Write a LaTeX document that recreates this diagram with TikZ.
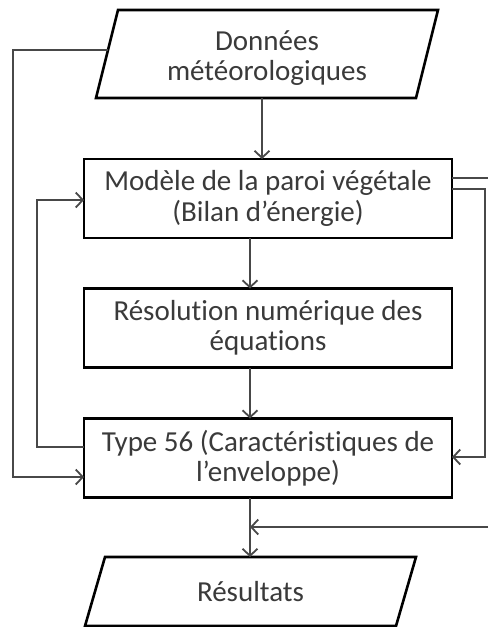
\documentclass[tikz,border=0pt]{standalone}
\usepackage{fontspec}
\setmainfont[Ligatures=NoCommon]{Carlito}
\usetikzlibrary{arrows.meta,calc}
\definecolor{ink}{HTML}{3A3A3A}
\definecolor{wirecol}{HTML}{484848}
\begin{document}
\begin{tikzpicture}[x=1pt,y=-1pt,
  txt/.style={align=center,text=ink,font=\fontsize{29}{30.5}\selectfont},
  box/.style={txt,draw=black,line width=2.6pt,fill=white,minimum width=368pt,
    minimum height=79pt,inner sep=0pt,outer sep=0pt},
  iobody/.style={txt,inner sep=0pt,outer sep=0pt},
  ioline/.style={draw=black,line width=2.6pt,line join=miter,fill=white},
  wire/.style={draw=wirecol,line width=1.8pt},
  arr/.style={wire,-{Straight Barb[length=7pt,width=15pt,line width=1.8pt]}}]
  \fill[white] (0,0) rectangle (488,627);
  \useasboundingbox (0,0) rectangle (488,627);

  % input / output parallelograms: a body node plus a slanted outline
  \node[iobody,minimum width=320pt,minimum height=88pt] (donnees) at (267,54) {};
  \path[ioline] ([xshift=-11pt]donnees.south west) -- ([xshift=11pt]donnees.north west)
     -- ([xshift=11pt]donnees.north east) -- ([xshift=-11pt]donnees.south east) -- cycle;
  \node[txt] (donneesT) at (267,58) {Données\\météorologiques};

  \node[iobody,minimum width=311pt,minimum height=69pt] (resultats) at (250.5,591.5) {};
  \path[ioline] ([xshift=-10pt]resultats.south west) -- ([xshift=10pt]resultats.north west)
     -- ([xshift=10pt]resultats.north east) -- ([xshift=-10pt]resultats.south east) -- cycle;
  \node[txt] (resultatsT) at (250.5,592) {Résultats};

  % process boxes
  \node[box] (modele) at (268,198.5) {Modèle de la paroi végétale\\(Bilan d’énergie)};
  \node[box] (resol)  at (268,328)   {Résolution numérique des\\équations};
  \node[box] (type)   at (268,458)   {Type 56 (Caractéristiques de\\l’enveloppe)};

  % main chain
  \coordinate (spine) at ([xshift=-18pt]type.south);
  \draw[arr] ([xshift=-5pt]donnees.south) -- ([xshift=-5pt]donnees.south |- modele.north);
  \draw[arr] ([xshift=-18pt]modele.south) -- ([xshift=-18pt]resol.north);
  \draw[arr] ([xshift=-18pt]resol.south) -- ([xshift=-18pt]type.north);
  \draw[arr] (spine) -- (spine |- resultats.north);

  % feedback loops on the left
  \draw[arr] ([xshift=1pt,yshift=4pt]donnees.west) -- ++(-95,0) |- ([yshift=-19pt]type.west);
  \draw[arr] ([yshift=11pt]type.west) -- ++(-47,0) |- ([yshift=-1.5pt]modele.west);

  % links on the right
  \coordinate (outA) at (488,178);
  \coordinate (inB) at (488,527);
  \draw[wire] (modele.east |- outA) -- (outA);
  \draw[arr] ([yshift=9.5pt]modele.east) -- ++(33,0) |- ([yshift=1pt]type.east);
  \draw[arr] (inB) -- (inB -| spine);
\end{tikzpicture}
\end{document}
